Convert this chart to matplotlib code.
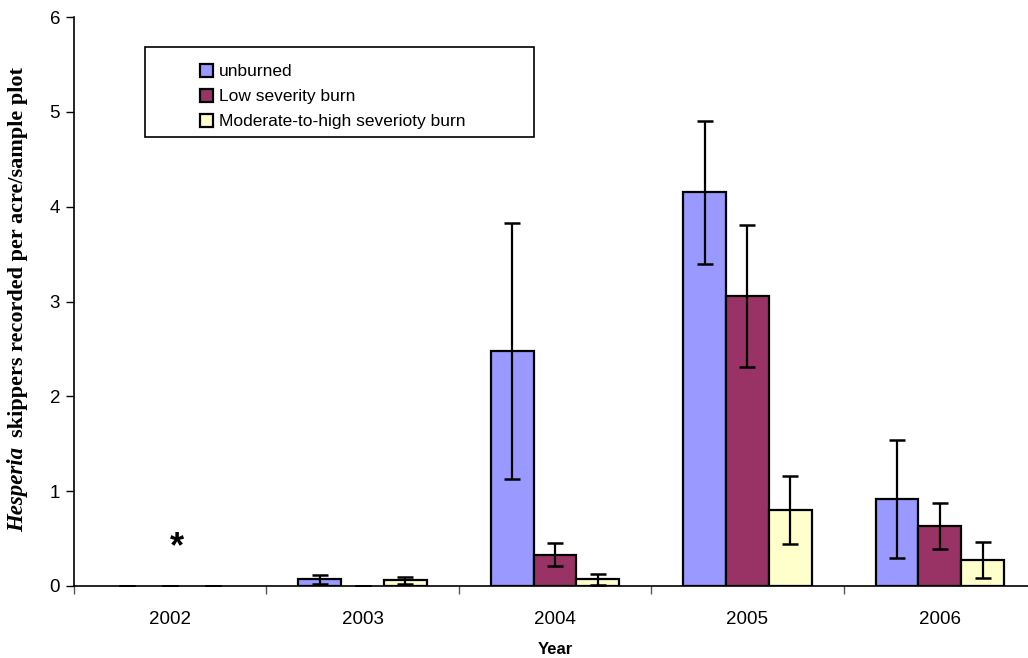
import matplotlib.pyplot as plt
import numpy as np
from matplotlib.patches import Rectangle, Patch

years = ['2002', '2003', '2004', '2005', '2006']
series = ['unburned', 'Low severity burn', 'Moderate-to-high severioty burn']
colors = ['#9999FF', '#993366', '#FFFFCC']

unburned = [0.0, 0.07, 2.48, 4.15, 0.92]
unburned_err = [0.0, 0.05, 1.35, 0.75, 0.62]
low = [0.0, 0.0, 0.33, 3.06, 0.63]
low_err = [0.0, 0.0, 0.12, 0.75, 0.24]
moderate = [0.0, 0.06, 0.07, 0.80, 0.27]
moderate_err = [0.0, 0.035, 0.06, 0.36, 0.19]

W, H = 1028, 658
fig = plt.figure(figsize=(W / 100, H / 100), dpi=100)
ax = fig.add_axes([74 / W, 1 - 586 / H, 962 / W, 569 / H])

x = np.arange(len(years))
w = 1 / 4.5
vals = [unburned, low, moderate]
errs = [unburned_err, low_err, moderate_err]
for i, (v, e) in enumerate(zip(vals, errs)):
    v = np.array(v)
    e = np.array(e)
    pos = x + (i - 1) * w
    # zero-height bars get no outline, only the error cap shows
    lw = np.where(v > 0, 1.6, 0)
    ax.bar(pos, v, w, color=colors[i], edgecolor='black', linewidth=lw, zorder=2)
    ax.errorbar(pos, v, yerr=e, fmt='none',
                ecolor='black', elinewidth=1.6, capsize=5.5, capthick=1.8, zorder=3)

# marker for 2002
ax.text(0.036, 0.40, '*', ha='center', va='center', fontsize=26, fontweight='bold',
        family='Liberation Sans')

ax.set_xlim(-0.5, 4.5)
ax.set_ylim(0, 6)
ax.set_yticks(range(7))
ax.set_xticks(x)
ax.set_xticklabels(years)
ax.set_xticks(np.arange(-0.5, 5, 1), minor=True)
ax.tick_params(axis='x', which='major', length=0, pad=18, labelsize=13.5)
ax.tick_params(axis='x', which='minor', length=6, width=1, color='#555555', direction='out')
ax.tick_params(axis='y', length=6, width=1, direction='out', labelsize=13.5, pad=4)
for lab in ax.get_xticklabels() + ax.get_yticklabels():
    lab.set_family('Liberation Sans')
ax.spines['top'].set_visible(False)
ax.spines['right'].set_visible(False)
ax.spines['left'].set_linewidth(1.2)
ax.spines['bottom'].set_linewidth(1.2)

ax.set_xlabel('Year', fontsize=12, fontweight='bold', family='Liberation Sans', labelpad=10)

# y label: italic genus name plus the rest
fig.text(18 / W, 1 - 532 / H, 'Hesperia', rotation=90, ha='center', va='bottom',
         fontsize=16.5, fontweight='bold', style='italic', family='Liberation Serif')
fig.text(18 / W, 1 - 437 / H, 'skippers recorded per acre/sample plot', rotation=90,
         ha='center', va='bottom', fontsize=16, fontweight='bold', family='Liberation Serif')

# legend frame and entries
fig.patches.append(Rectangle((145 / W, 1 - 137 / H), 389 / W, 90 / H, transform=fig.transFigure,
                             fill=False, edgecolor='black', linewidth=1.2))
handles = [Patch(facecolor=c, edgecolor='black', linewidth=1.6) for c in colors]
fig.legend(handles=handles, labels=series, loc='upper left',
           bbox_to_anchor=(186 / W, 1 - 50 / H), frameon=False,
           prop={'family': 'Liberation Sans', 'size': 12.5},
           handlelength=0.75, handleheight=0.75, handletextpad=0.35, labelspacing=0.55,
           borderpad=0.3)

fig.savefig('out.png', dpi=100)
